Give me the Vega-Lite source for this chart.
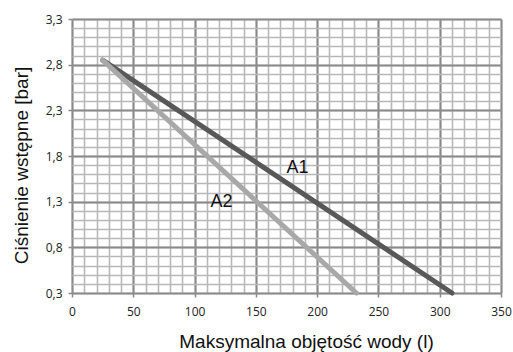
{
  "$schema": "https://vega.github.io/schema/vega-lite/v6.json",
  "width": 429,
  "height": 274,
  "autosize": {"type": "none"},
  "padding": {"left": 72, "top": 19, "right": 12, "bottom": 59},
  "background": "white",
  "config": {"view": {"stroke": null}},
  "datasets": {
    "lines": [
      {"series": "A1", "x": 25, "y": 2.85},
      {"series": "A1", "x": 310, "y": 0.3},
      {"series": "A2", "x": 25, "y": 2.85},
      {"series": "A2", "x": 232, "y": 0.3}
    ],
    "labels": [
      {"label": "A1", "x": 184, "y": 1.67},
      {"label": "A2", "x": 122, "y": 1.3}
    ]
  },
  "resolve": {"axis": {"x": "independent", "y": "independent"}},
  "layer": [
    {
      "data": {"name": "lines"},
      "mark": {"type": "line", "strokeWidth": 5, "strokeCap": "round", "clip": false},
      "encoding": {
        "x": {
          "field": "x", "type": "quantitative",
          "scale": {"domain": [0, 350], "nice": false, "zero": false},
          "axis": {
            "orient": "bottom",
            "values": [0,10,20,30,40,50,60,70,80,90,100,110,120,130,140,150,160,170,180,190,200,210,220,230,240,250,260,270,280,290,300,310,320,330,340,350],
            "labels": false, "ticks": false, "domain": false, "title": null,
            "grid": true, "gridColor": "#b8b8b8", "gridWidth": 1.6
          }
        },
        "y": {
          "field": "y", "type": "quantitative",
          "scale": {"domain": [0.3, 3.3], "nice": false, "zero": false},
          "axis": {
            "orient": "left",
            "values": [0.3,0.4,0.5,0.6,0.7,0.8,0.9,1.0,1.1,1.2,1.3,1.4,1.5,1.6,1.7,1.8,1.9,2.0,2.1,2.2,2.3,2.4,2.5,2.6,2.7,2.8,2.9,3.0,3.1,3.2,3.3],
            "labels": false, "ticks": false, "domain": false, "title": null,
            "grid": true, "gridColor": "#b8b8b8", "gridWidth": 1.6
          }
        },
        "color": {
          "field": "series", "type": "nominal",
          "scale": {"domain": ["A1", "A2"], "range": ["#585858", "#a8a8a8"]},
          "legend": null
        },
        "order": {"field": "series"}
      }
    },
    {
      "data": {"name": "labels"},
      "mark": {"type": "text", "font": "Liberation Sans", "fontSize": 18, "color": "#111", "align": "center", "baseline": "middle"},
      "encoding": {
        "x": {
          "field": "x", "type": "quantitative",
          "axis": {
            "orient": "bottom",
            "values": [0, 50, 100, 150, 200, 250, 300, 350],
            "labelOverlap": false, "labelFlush": false, "labelBound": false,
            "grid": true, "gridColor": "#8a8a8a", "gridWidth": 2,
            "domain": false,
            "tickColor": "#8a8a8a", "tickSize": 4, "tickWidth": 1.5,
            "labelFont": "Open Sans", "labelFontSize": 12, "labelColor": "#222", "labelPadding": 9,
            "title": "Maksymalna objętość wody (l)",
            "titleFont": "Liberation Sans", "titleFontSize": 19, "titleFontWeight": "normal", "titleColor": "#111",
            "titleX": 234, "titleY": 54, "titleAlign": "center", "titleBaseline": "alphabetic"
          }
        },
        "y": {
          "field": "y", "type": "quantitative",
          "axis": {
            "orient": "left",
            "values": [0.3, 0.8, 1.3, 1.8, 2.3, 2.8, 3.3],
            "labelExpr": "replace(format(datum.value, '.1f'), '.', ',')",
            "labelOverlap": false, "labelFlush": false, "labelBound": false,
            "grid": true, "gridColor": "#8a8a8a", "gridWidth": 2,
            "domain": false,
            "tickColor": "#8a8a8a", "tickSize": 4, "tickWidth": 1.5,
            "labelFont": "Open Sans", "labelFontSize": 12, "labelColor": "#222", "labelPadding": 6,
            "title": "Ciśnienie wstępne [bar]",
            "titleFont": "Liberation Sans", "titleFontSize": 19, "titleFontWeight": "normal", "titleColor": "#111",
            "titleX": -45, "titleY": 146, "titleAngle": -90, "titleAlign": "center", "titleBaseline": "alphabetic"
          }
        },
        "text": {"field": "label"}
      }
    }
  ]
}
